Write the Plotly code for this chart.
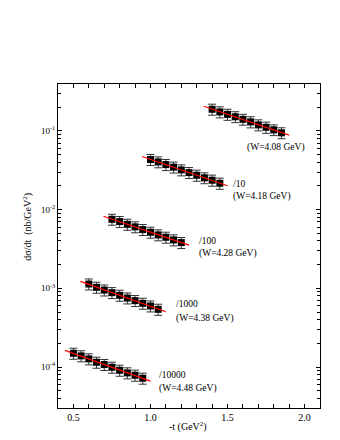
import numpy as np
import plotly.graph_objects as go

# -t values (GeV^2)
t_408 = [1.40, 1.45, 1.50, 1.55, 1.60, 1.65, 1.70, 1.75, 1.80, 1.85]
t_418 = [1.00, 1.05, 1.10, 1.15, 1.20, 1.25, 1.30, 1.35, 1.40, 1.45]
t_428 = [0.75, 0.80, 0.85, 0.90, 0.95, 1.00, 1.05, 1.10, 1.15, 1.20]
t_438 = [0.60, 0.65, 0.70, 0.75, 0.80, 0.85, 0.90, 0.95, 1.00, 1.05]
t_448 = [0.50, 0.55, 0.60, 0.65, 0.70, 0.75, 0.80, 0.85, 0.90, 0.95]

# dsigma/dt (nb/GeV^2), unscaled
y_408 = [0.188, 0.174, 0.162, 0.151, 0.140, 0.130, 0.119, 0.111, 0.103, 0.0944]
y_418 = [0.432, 0.403, 0.373, 0.346, 0.319, 0.295, 0.273, 0.253, 0.236, 0.216]
y_428 = [0.753, 0.704, 0.650, 0.603, 0.557, 0.515, 0.477, 0.445, 0.412, 0.381]
y_438 = [1.134, 1.030, 0.951, 0.881, 0.815, 0.753, 0.698, 0.645, 0.596, 0.541]
y_448 = [1.496, 1.387, 1.270, 1.150, 1.076, 0.994, 0.910, 0.843, 0.787, 0.721]

# errors
e_408 = [0.030, 0.028, 0.026, 0.024, 0.022, 0.021, 0.019, 0.018, 0.016, 0.015]
e_418 = [0.069, 0.064, 0.060, 0.055, 0.051, 0.047, 0.044, 0.040, 0.038, 0.035]
e_428 = [0.120, 0.113, 0.104, 0.096, 0.089, 0.082, 0.076, 0.071, 0.066, 0.061]
e_438 = [0.181, 0.165, 0.152, 0.141, 0.130, 0.120, 0.112, 0.103, 0.095, 0.087]
e_448 = [0.239, 0.222, 0.203, 0.184, 0.172, 0.159, 0.146, 0.135, 0.126, 0.115]

scales = [1, 10, 100, 1000, 10000]
scale_labels = ["", "/10", "/100", "/1000", "/10000"]
w_labels = ["(W=4.08 GeV)", "(W=4.18 GeV)", "(W=4.28 GeV)", "(W=4.38 GeV)", "(W=4.48 GeV)"]

# label anchor positions (data coords: -t, log10 y)
scale_pos = [None, (1.523, -1.670), (1.300, -2.398), (1.154, -3.203), (1.045, -4.095)]
w_pos = [(1.612, -1.207), (1.523, -1.839), (1.300, -2.559), (1.154, -3.377), (1.045, -4.273)]

ts = [t_408, t_418, t_428, t_438, t_448]
ys = [y_408, y_418, y_428, y_438, y_448]
es = [e_408, e_418, e_428, e_438, e_448]

FONT = "Liberation Serif"
fig = go.Figure()

for t, y, e, s in zip(ts, ys, es, scales):
    t = np.array(t)
    yv = np.array(y) / s
    ev = np.array(e) / s
    fig.add_trace(go.Scatter(x=t, y=yv, mode="markers",
                             marker=dict(symbol="square", size=7, color="black"),
                             error_y=dict(type="data", array=ev, color="#333333",
                                          thickness=1, width=4),
                             showlegend=False))
    # exponential fit line
    b, a = np.polyfit(t, np.log(yv), 1)
    tl = np.linspace(t[0] - 0.055, t[-1] + 0.05, 30)
    fig.add_trace(go.Scatter(x=tl, y=np.exp(a + b * tl), mode="lines",
                             line=dict(color="#ff0000", width=1.2),
                             showlegend=False, hoverinfo="skip"))

annos = []
for sp, lab in zip(scale_pos, scale_labels):
    if sp is None:
        continue
    annos.append(dict(x=sp[0], y=sp[1], xref="x", yref="y", text=lab, showarrow=False,
                      xanchor="left", yanchor="middle",
                      font=dict(family=FONT, size=9.5, color="black")))
for wp, lab in zip(w_pos, w_labels):
    annos.append(dict(x=wp[0], y=wp[1], xref="x", yref="y", text=lab, showarrow=False,
                      xanchor="left", yanchor="middle",
                      font=dict(family=FONT, size=9.5, color="black")))

annos.append(dict(x=-0.115, y=0.559, xref="paper", yref="paper",
                  text="d\u03c3/dt  (nb/GeV<sup>2</sup>)", textangle=-90, showarrow=False,
                  xanchor="center", yanchor="middle",
                  font=dict(family=FONT, size=10, color="black")))
annos.append(dict(x=0.496, y=-0.058, xref="paper", yref="paper",
                  text="-t (GeV<sup>2</sup>)", showarrow=False,
                  xanchor="center", yanchor="middle",
                  font=dict(family=FONT, size=10, color="black")))

# y ticks: decades labelled; minor ticks on an overlaid axis
decades = [-4, -3, -2, -1]
major_vals = [10.0 ** d for d in decades]
major_text = ["10<sup>%d</sup>" % d for d in decades]
minor_vals = [m * 10.0 ** d for d in [-5, -4, -3, -2, -1] for m in range(2, 10)]

yr = [-4.52, -0.405]
fig.add_trace(go.Scatter(x=[None], y=[None], yaxis="y2", showlegend=False, hoverinfo="skip"))

fig.update_layout(
    width=340, height=440,
    margin=dict(l=50, r=28, t=76, b=40),
    paper_bgcolor="white", plot_bgcolor="white",
    annotations=annos,
    xaxis=dict(range=[0.4, 2.1], tickmode="linear", tick0=0.5, dtick=0.5, tickformat=".1f",
               ticks="inside", ticklen=4, tickcolor="black", showline=True, linecolor="black",
               linewidth=1, mirror="allticks", showgrid=False, zeroline=False,
               tickfont=dict(family=FONT, size=10, color="black"),
               minor=dict(dtick=0.1, tick0=0, ticks="inside", ticklen=3, tickcolor="black",
                          showgrid=False)),
    yaxis=dict(type="log", range=yr, tickmode="array", tickvals=major_vals,
               ticktext=major_text, ticks="inside", ticklen=4, tickcolor="black",
               showline=True, linecolor="black", linewidth=1, mirror="allticks",
               showgrid=False, zeroline=False,
               tickfont=dict(family=FONT, size=9, color="black")),
    yaxis2=dict(type="log", range=yr, overlaying="y", side="left", anchor="x",
                tickmode="array", tickvals=minor_vals, showticklabels=False,
                ticks="inside", ticklen=3, tickcolor="black", showline=False,
                mirror="allticks", showgrid=False, zeroline=False),
)

fig.write_html("out.html")
